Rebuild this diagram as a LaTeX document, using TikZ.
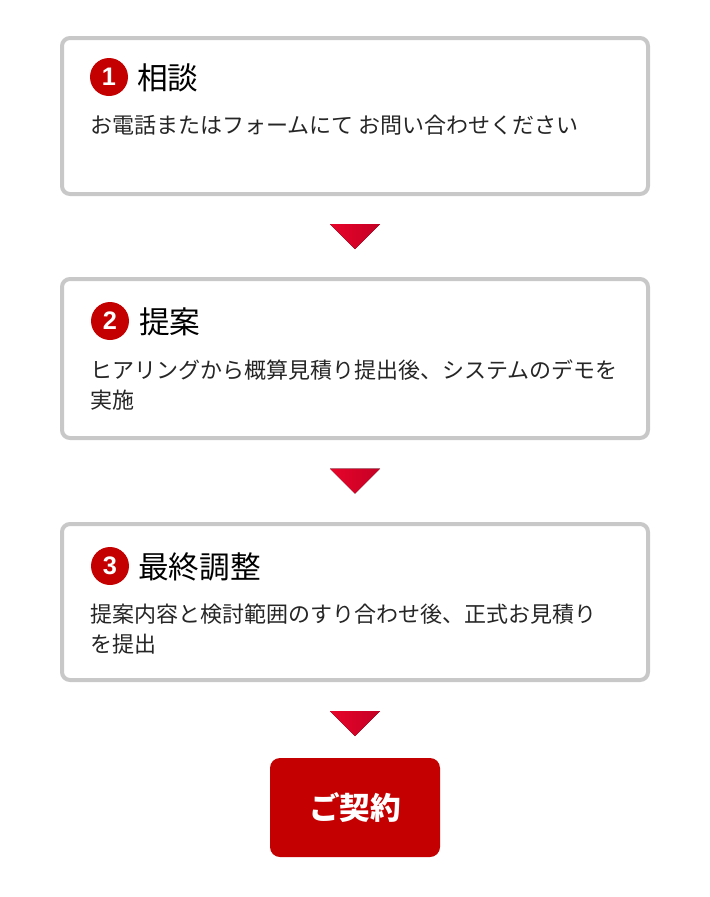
\documentclass[tikz,border=0pt]{standalone}
\usepackage{fontspec}
\setmainfont{Noto Sans CJK JP}
\newfontfamily\numfont{Liberation Sans}
\usetikzlibrary{calc}
\definecolor{framegray}{RGB}{200,200,200}
\definecolor{mainred}{RGB}{196,0,0}
\definecolor{trileft}{RGB}{232,4,42}
\definecolor{triright}{RGB}{196,0,36}
\begin{document}
\begin{tikzpicture}[x=0.75pt,y=-0.75pt,
	stepbox/.style={draw=framegray,line width=3pt,rounded corners=6pt,minimum width=439.5pt,fill=white},
	badge/.style={circle,fill=mainred,text=white,font=\numfont\bfseries\fontsize{19}{19}\selectfont,minimum size=28.5pt,inner sep=0pt},
	steptitle/.style={anchor=base west,inner sep=0pt,font=\fontsize{23}{23}\selectfont},
	stepbody/.style={anchor=base west,inner sep=0pt,align=left,font=\fontsize{16.5}{22.5}\selectfont,text=black!85},
	arrowtri/.style={left color=trileft,right color=triright}]
	\useasboundingbox [fill=white] (0,0) rectangle (710,897);
	% steps
	\node [stepbox,minimum height=117pt] (s1) at (355,116) {};
	\node [stepbox,minimum height=119.25pt] (s2) at (355,358.5) {};
	\node [stepbox,minimum height=117pt] (s3) at (355,602) {};
	\node [badge] (b1) at (109,77) {1};
	\node [steptitle] (t1) at (137,89) {相談};
	\node [stepbody] (d1) at (90,133) {お電話またはフォームにて お問い合わせください};
	\node [badge] (b2) at (110,321) {2};
	\node [steptitle] (t2) at (139,333) {提案};
	\node [stepbody] (d2) at (90,408) {ヒアリングから概算見積り提出後、システムのデモを\\実施};
	\node [badge] (b3) at (110,566) {3};
	\node [steptitle] (t3) at (138,578) {最終調整};
	\node [stepbody] (d3) at (90,652) {提案内容と検討範囲のすり合わせ後、正式お見積り\\を提出};
	% contract
	\node [fill=mainred,rounded corners=7.5pt,minimum width=127.5pt,minimum height=74.25pt,text=white,font=\bfseries\fontsize{23}{23}\selectfont] (deal) at (355,807.5) {ご契約};
	% arrows
	\coordinate (m1) at ($(s1.south)!0.5!(s2.north)$);
	\coordinate (m2) at ($(s2.south)!0.5!(s3.north)$);
	\coordinate (m3) at ($(s3.south)!0.55!(deal.north)$);
	\foreach \m in {m1,m2,m3}
		\fill [arrowtri] ($(\m)+(-25,-12.5)$) -- ($(\m)+(25,-12.5)$) -- ($(\m)+(0,12.5)$) -- cycle;
\end{tikzpicture}
\end{document}
